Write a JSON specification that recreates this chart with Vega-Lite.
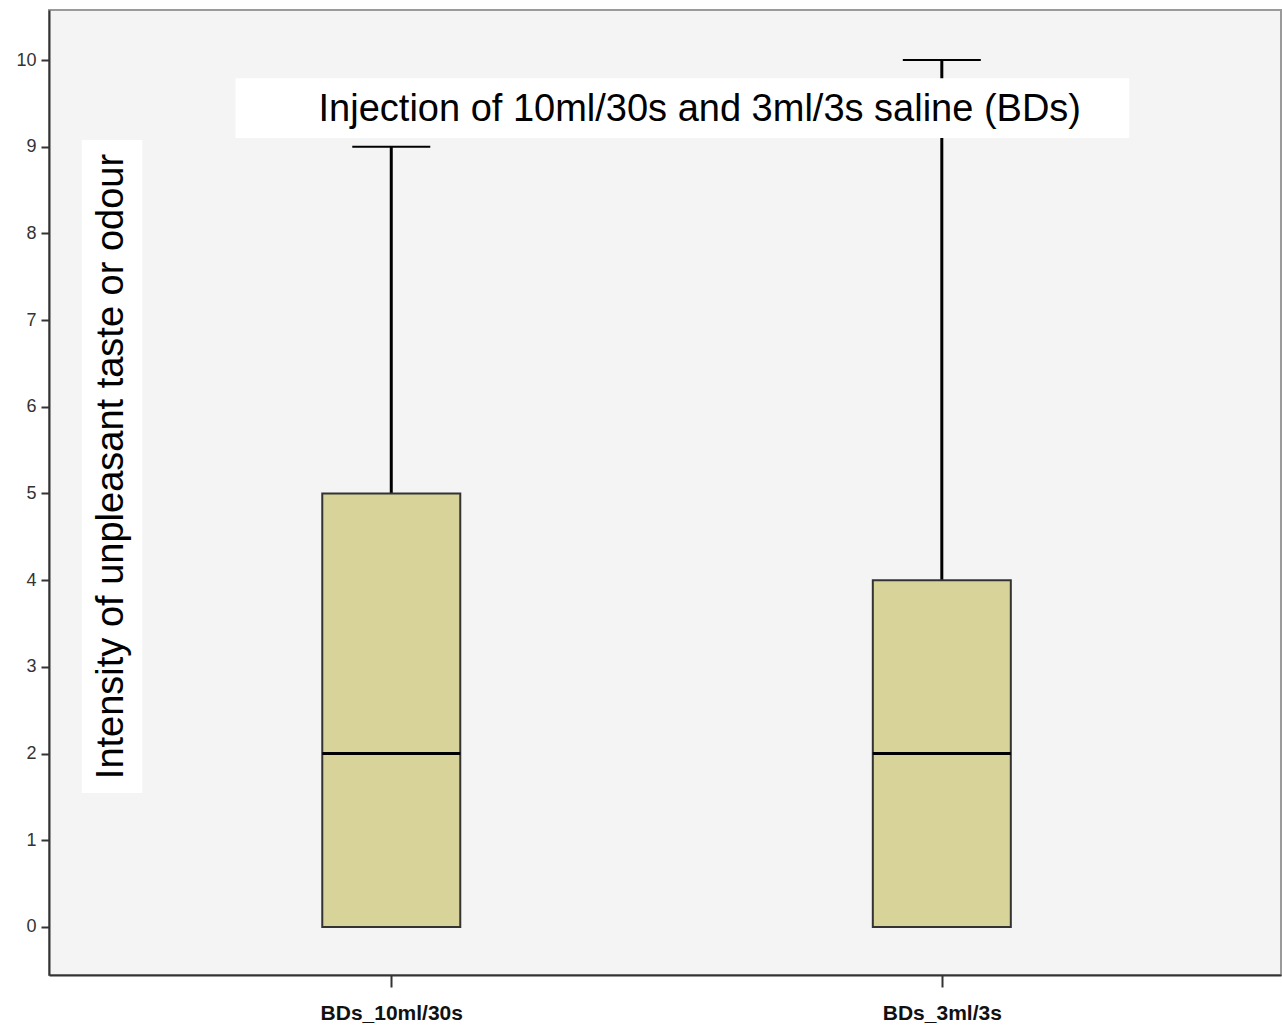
{
  "$schema": "https://vega.github.io/schema/vega-lite/v6.json",
  "width": 1232,
  "height": 965,
  "autosize": "none",
  "padding": {"left": 49, "top": 10, "right": 1, "bottom": 51},
  "background": "white",
  "config": {
    "view": {"fill": "#f4f4f4", "stroke": "#9a9a9a", "strokeWidth": 2},
    "font": "Liberation Sans"
  },
  "datasets": {
    "boxes": [
      {"group": "BDs_10ml/30s", "pos": 1, "min": 0, "q1": 0, "median": 2, "q3": 5, "max": 9},
      {"group": "BDs_3ml/3s", "pos": 2, "min": 0, "q1": 0, "median": 2, "q3": 4, "max": 10}
    ],
    "notes": [
      {"kind": "title", "x1": 0.7171, "x2": 2.3405, "y1": 9.1, "y2": 9.79, "tx": 1.5604, "ty": 9.42, "label": "Injection of 10ml/30s and 3ml/3s saline (BDs)", "angle": 0},
      {"kind": "ylab", "x1": 0.4379, "x2": 0.5477, "y1": 1.546, "y2": 9.077, "tx": 0.4919, "ty": 5.311, "label": "Intensity of unpleasant taste or odour", "angle": 270}
    ]
  },
  "encoding": {
    "x": {
      "field": "pos", "type": "quantitative",
      "scale": {"domain": [0.3874, 2.607], "nice": false, "zero": false},
      "axis": {
        "values": [1, 2], "title": null, "grid": false,
        "labelExpr": "datum.value == 1 ? 'BDs_10ml/30s' : 'BDs_3ml/3s'",
        "domainColor": "#333333", "domainWidth": 2,
        "tickColor": "#333333", "tickWidth": 2, "tickSize": 12,
        "labelFont": "Liberation Sans", "labelFontSize": 21, "labelFontWeight": "bold",
        "labelColor": "#111111", "labelPadding": 15, "labelBaseline": "top"
      }
    }
  },
  "layer": [
    {
      "data": {"name": "boxes"},
      "mark": {"type": "rule", "color": "#000000", "strokeWidth": 3},
      "encoding": {
        "y": {"field": "q3", "type": "quantitative"},
        "y2": {"field": "max"}
      }
    },
    {
      "data": {"name": "boxes"},
      "mark": {"type": "rule", "color": "#000000", "strokeWidth": 3},
      "encoding": {
        "y": {"field": "min", "type": "quantitative"},
        "y2": {"field": "q1"}
      }
    },
    {
      "data": {"name": "boxes"},
      "mark": {"type": "tick", "orient": "horizontal", "color": "#000000", "size": 78, "thickness": 2, "opacity": 1},
      "encoding": {"y": {"field": "max", "type": "quantitative"}}
    },
    {
      "data": {"name": "boxes"},
      "mark": {"type": "tick", "orient": "horizontal", "color": "#000000", "size": 78, "thickness": 2, "opacity": 1},
      "encoding": {"y": {"field": "min", "type": "quantitative"}}
    },
    {
      "data": {"name": "boxes"},
      "mark": {"type": "bar", "width": 138, "fill": "#d7d399", "stroke": "#333333", "strokeWidth": 2, "orient": "vertical"},
      "encoding": {
        "y": {
          "field": "q1", "type": "quantitative",
          "scale": {"domain": [-0.554, 10.577], "nice": false, "zero": false},
          "axis": {
            "values": [0,1,2,3,4,5,6,7,8,9,10], "format": "d", "title": null, "grid": false,
            "domainColor": "#333333", "domainWidth": 2,
            "tickColor": "#333333", "tickWidth": 2, "tickSize": 8,
            "labelFont": "Liberation Sans", "labelFontSize": 18, "labelColor": "#333333",
            "labelPadding": 5
          }
        },
        "y2": {"field": "q3"}
      }
    },
    {
      "data": {"name": "boxes"},
      "mark": {"type": "tick", "orient": "horizontal", "color": "#000000", "size": 138, "thickness": 3, "opacity": 1},
      "encoding": {"y": {"field": "median", "type": "quantitative"}}
    },
    {
      "data": {"name": "notes"},
      "mark": {"type": "rect", "fill": "white"},
      "encoding": {
        "x": {"field": "x1", "type": "quantitative"},
        "x2": {"field": "x2"},
        "y": {"field": "y1", "type": "quantitative"},
        "y2": {"field": "y2"}
      }
    },
    {
      "data": {"name": "notes"},
      "mark": {"type": "text", "fontSize": 38, "font": "Liberation Sans", "color": "#000000", "align": "center", "baseline": "middle"},
      "encoding": {
        "x": {"field": "tx", "type": "quantitative"},
        "y": {"field": "ty", "type": "quantitative"},
        "text": {"field": "label"},
        "angle": {"field": "angle", "type": "quantitative", "scale": null}
      }
    }
  ]
}
